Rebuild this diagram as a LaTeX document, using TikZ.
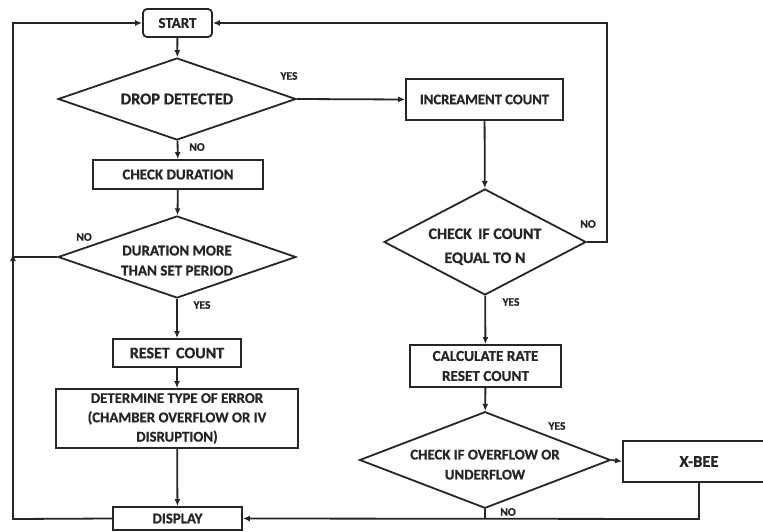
\documentclass[tikz,border=0pt]{standalone}
\usepackage{fontspec}
\setmainfont{Carlito}[BoldFeatures={FakeBold=0.8}]
\usetikzlibrary{shapes.geometric,arrows.meta}
\definecolor{ink}{HTML}{262626}
\begin{document}
\begin{tikzpicture}[x=1pt,y=-1pt,
  every node/.style={font=\bfseries, text=ink},
  line/.style={draw=ink, line width=1.8pt},
  arr/.style={line, -{Latex[length=7pt,width=6pt]}},
  boxnode/.style={draw=ink, line width=1.8pt, rectangle, inner sep=0pt, align=center, font=\bfseries\fontsize{15}{20}\selectfont},
  dia/.style={draw=ink, line width=1.8pt, diamond, inner sep=0pt, align=center, font=\bfseries\fontsize{15}{20}\selectfont},
  lbl/.style={font=\bfseries\fontsize{11.5}{12}\selectfont, inner sep=0pt}
]
\useasboundingbox (0,0) rectangle (763,532);
\fill[white] (0,0) rectangle (763,532);

\node[boxnode, rounded corners=4pt, minimum width=69pt, minimum height=28pt] (start) at (177.5,23) {START};
\node[dia, aspect=2.9, minimum width=238pt, minimum height=82pt, font=\bfseries\fontsize{16.4}{20}\selectfont] (drop) at (177,99) {DROP DETECTED};
\node[boxnode, minimum width=170pt, minimum height=29pt] (chk) at (178,174.5) {CHECK DURATION};
\node[dia, aspect=2.9, minimum width=238pt, minimum height=82pt] (dur) at (177,257) {\rule{0pt}{17pt}DURATION MORE\\THAN SET PERIOD};
\node[boxnode, minimum width=128pt, minimum height=28pt, font=\bfseries\fontsize{16}{20}\selectfont] (reset) at (177,353) {RESET\, COUNT};
\node[boxnode, minimum width=242pt, minimum height=59pt, font=\bfseries\fontsize{14.8}{19.3}\selectfont] (det) at (177,418.5) {DETERMINE TYPE OF ERROR\\(CHAMBER OVERFLOW OR IV\\DISRUPTION)};
\node[boxnode, minimum width=129pt, minimum height=23pt, font=\bfseries\fontsize{14.8}{18}\selectfont] (disp) at (177.5,518.5) {DISPLAY};

\node[boxnode, minimum width=157pt, minimum height=41pt, font=\bfseries\fontsize{14.6}{18}\selectfont] (inc) at (484.5,99.5) {INCREAMENT COUNT};
\node[dia, aspect=1.9, minimum width=202pt, minimum height=106pt, font=\bfseries\fontsize{16}{24}\selectfont] (cnt) at (485,242) {\rule{0pt}{20pt}CHECK\, IF COUNT\\EQUAL TO N};
\node[boxnode, minimum width=151pt, minimum height=42pt, font=\bfseries\fontsize{15.2}{20}\selectfont] (calc) at (485.5,366) {CALCULATE RATE\\RESET COUNT};
\node[dia, aspect=2.6, minimum width=244pt, minimum height=94pt, font=\bfseries\fontsize{14.8}{20}\selectfont] (ovf) at (485,460) {\rule{0pt}{19pt}CHECK IF OVERFLOW OR\\UNDERFLOW};
\node[boxnode, minimum width=152pt, minimum height=41pt, font=\bfseries\fontsize{16.5}{18}\selectfont] (xbee) at (699,461.5) {X-BEE};

\coordinate (lj) at (13,257);
\coordinate (lt) at (13,23);
\coordinate (lb) at (13,519);
\coordinate (rj) at (607,242);
\coordinate (rt) at (607,23);
\coordinate (xb) at (699,519);
\coordinate (ob) at (485,519);

\draw[arr] (start) -- (drop);
\draw[arr] (drop) -- (chk);
\draw[arr] (chk) -- (dur);
\draw[arr] (dur) -- (reset);
\draw[arr] (reset) -- (det);
\draw[arr] (det) -- (disp);
\draw[arr] (drop.east) -- (inc.west);
\draw[arr] (inc) -- (cnt);
\draw[arr] (cnt) -- (calc);
\draw[arr] (calc) -- (ovf);
\draw[arr] (ovf.east) -- (xbee.west);

\draw[arr] (dur.west) -- (lj) -- (lt) -- (start.west);
\draw[arr] (disp.west) -- (lb) -- ([yshift=3pt]lj);
\draw[arr] (cnt.east) -- (rj) -- (rt) -- (start.east);
\draw[arr] (xbee.south -| xb) -- (xb) -- (disp.east);
\draw[line] (ovf.south) -- (ob);

\node[lbl] (l1) at (289,76) {YES};
\node[lbl] (l2) at (197,147) {NO};
\node[lbl] (l3) at (84,237) {NO};
\node[lbl] (l4) at (202,305) {YES};
\node[lbl] (l5) at (588,224) {NO};
\node[lbl] (l6) at (511,302) {YES};
\node[lbl] (l7) at (557,426) {YES};
\node[lbl] (l8) at (508,512) {NO};
\end{tikzpicture}
\end{document}
